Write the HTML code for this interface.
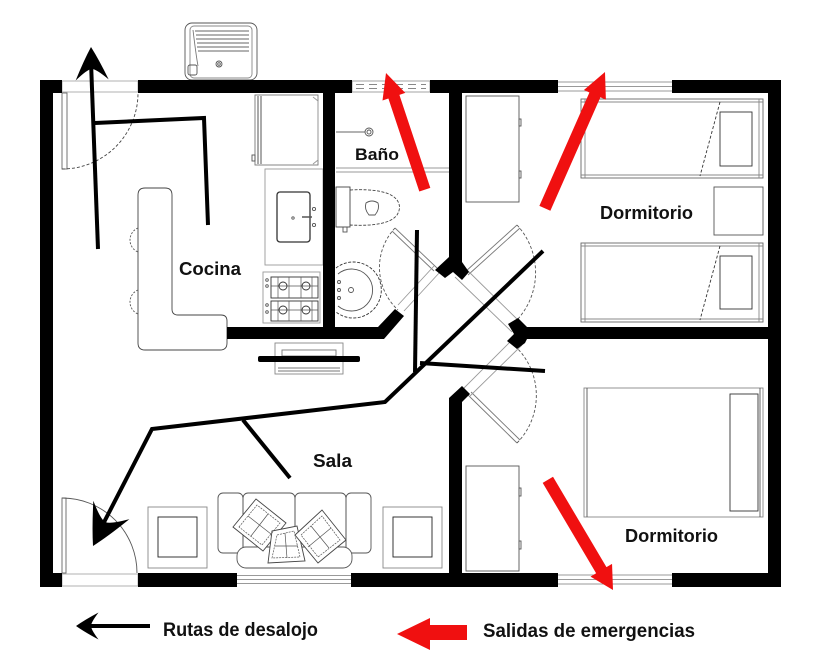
<!DOCTYPE html>
<html><head><meta charset="utf-8">
<style>
html,body{margin:0;padding:0;background:#fff;}
svg{display:block;}
text{font-family:"Liberation Sans",Arial,sans-serif;font-weight:bold;fill:#111;}
</style></head>
<body>
<svg width="819" height="655" viewBox="0 0 819 655" xmlns="http://www.w3.org/2000/svg">
<rect width="819" height="655" fill="#fff"/>

<!-- ============ thin furniture ============ -->
<g fill="none" stroke="#555" stroke-width="0.9">
  <!-- outside sink -->
  <rect x="185" y="23" width="72" height="57" rx="7"/>
  <rect x="190" y="26" width="62" height="52" rx="4" stroke="#888"/>
  <path d="M195,31 H249 M196,35 H249 M196,39 H249 M197,43 H249 M197,47 H249 M198,51 H249" stroke="#666"/>
  <path d="M193,30 Q196,55 198,66" stroke="#777"/>
  <circle cx="219" cy="64" r="3"/><circle cx="219" cy="64" r="1.3"/>
  <rect x="188" y="65" width="9" height="10" rx="2"/>

  <!-- fridge -->
  <rect x="255" y="95" width="63" height="70" stroke="#777"/>
  <path d="M258,96 V164 M261,96 V164" stroke="#444"/>
  <path d="M313,97 L318,101 V160 L313,164" stroke="#999"/>
  <rect x="252" y="155" width="3" height="6"/>

  <!-- counter with sink -->
  <rect x="265" y="169" width="58" height="96" stroke="#999"/>
  <rect x="277" y="192" width="33" height="50" rx="3" stroke="#333" stroke-width="1.3"/>
  <circle cx="293" cy="218" r="1.2"/>
  <path d="M302,217 H312" stroke-width="1.5"/>
  <circle cx="314" cy="209" r="1.6"/><circle cx="314" cy="225" r="1.6"/>

  <!-- stove -->
  <rect x="263" y="272" width="57" height="51" stroke="#999"/>
  <rect x="271" y="277" width="47" height="21" stroke="#333"/>
  <rect x="271" y="301" width="47" height="20" stroke="#333"/>
  <path d="M278,277 V298 M289,277 V298 M301,277 V298 M312,277 V298 M271,286 H318 M278,301 V321 M289,301 V321 M301,301 V321 M312,301 V321 M271,310 H318" stroke="#555" stroke-width="0.7"/>
  <circle cx="283" cy="286" r="4" stroke="#333"/><circle cx="306" cy="286" r="4" stroke="#333"/>
  <circle cx="283" cy="310" r="4" stroke="#333"/><circle cx="306" cy="310" r="4" stroke="#333"/>
  <circle cx="267" cy="280" r="1.3"/><circle cx="267" cy="286" r="1.3"/>
  <circle cx="267" cy="305" r="1.3"/><circle cx="267" cy="312" r="1.3"/>

  <!-- island -->
  <path d="M145,188 H165 Q172,188 172,195 V309 Q172,315 178,315 H221 Q227,315 227,321 V343 Q227,350 220,350 H145 Q138,350 138,343 V195 Q138,188 145,188 Z" stroke="#444"/>
  <!-- stools -->
  <path d="M138,228 A13,13 0 0 0 138,252" stroke-dasharray="2,1.5"/>
  <path d="M138,290 A13,13 0 0 0 138,314" stroke-dasharray="2,1.5"/>

  <!-- top-left door -->
  <rect x="62" y="81" width="76" height="11" stroke="#aaa"/>
  <rect x="62" y="93" width="5" height="76" stroke="#666"/>
  <path d="M62,169 A76,76 0 0 0 138,93" stroke-dasharray="3,2" stroke="#444"/>

  <!-- TV unit -->
  <rect x="275" y="343" width="68" height="31" stroke="#888"/>
  <rect x="282" y="350" width="54" height="6" stroke="#777"/>
  <path d="M278,368 H340 M278,371 H340" stroke="#777"/>

  <!-- bathroom -->
  <rect x="352" y="81" width="78" height="11" stroke="#999"/>
  <path d="M356,84.5 H426 M356,88.5 H426" stroke="#888" stroke-dasharray="8,5"/>
  <path d="M336,132 H365" stroke="#666"/>
  <circle cx="369" cy="132" r="4"/><circle cx="369" cy="132" r="2"/>
  <path d="M336,168 H449 M336,172 H449" stroke="#999"/>
  <rect x="336" y="187" width="14" height="40" stroke="#444"/>
  <rect x="343" y="227" width="4" height="5"/>
  <path d="M350,190 Q388,188 397,200 Q402,207 397,215 Q388,227 350,225" stroke="#444" stroke-dasharray="3,1.5"/>
  <path d="M366,203 Q372,199 378,203 Q380,209 375,215 H369 Q364,209 366,203 Z"/>
  <path d="M336,268 A28,28 0 1 1 336,312" stroke="#333" stroke-dasharray="3,1.5"/>
  <path d="M338,274 A21,21 0 1 1 338,306" stroke="#555"/>
  <circle cx="339" cy="282" r="1.5"/><circle cx="339" cy="290" r="1.5"/><circle cx="339" cy="298" r="1.5"/>
  <circle cx="351" cy="290" r="2.5"/>

  <!-- bath door -->
  <path d="M437,268 L395,228 M434,271 L392,231" stroke="#777"/>
  <path d="M395,228 A58,58 0 0 0 398,310" stroke="#555" stroke-dasharray="3,2"/>
  <path d="M404,311 L440,272 M398,305 L434,266" stroke="#999"/>

  <!-- top bedroom door -->
  <path d="M465,272 L517,225 M468,275 L520,228" stroke="#777"/>
  <path d="M517,225 A70,70 0 0 1 517,320" stroke="#555" stroke-dasharray="3,2"/>
  <path d="M455,277 L512,332 M464,267 L521,323" stroke="#999"/>

  <!-- bottom bedroom door -->
  <path d="M468,395 L517,443 M471,392 L520,440" stroke="#777"/>
  <path d="M517,443 A68,68 0 0 0 517,348" stroke="#555" stroke-dasharray="3,2"/>
  <path d="M462,390 L512,340 M470,396 L522,345" stroke="#999"/>

  <!-- top bedroom window -->
  <path d="M558,82 H672 M558,86.5 H672 M558,91 H672" stroke="#999"/>
  <!-- wardrobe top -->
  <rect x="466" y="96" width="53" height="106"/>
  <rect x="519" y="119" width="2" height="7"/><rect x="519" y="171" width="2" height="7"/>
  <!-- bed 1 -->
  <rect x="581" y="99" width="182" height="79" stroke="#666"/>
  <path d="M585,99 V178 M759,99 V178 M581,102 H763 M581,175 H763" stroke="#888"/>
  <rect x="720" y="112" width="32" height="54" stroke="#333"/>
  <path d="M720,102 L700,176" stroke="#333" stroke-dasharray="3,2"/>
  <!-- nightstand -->
  <rect x="714" y="187" width="49" height="48"/>
  <!-- bed 2 -->
  <rect x="581" y="243" width="182" height="79" stroke="#666"/>
  <path d="M585,243 V322 M759,243 V322 M581,246 H763 M581,319 H763" stroke="#888"/>
  <rect x="720" y="256" width="32" height="53" stroke="#333"/>
  <path d="M720,246 L700,320" stroke="#333" stroke-dasharray="3,2"/>

  <!-- bottom bedroom -->
  <rect x="466" y="466" width="53" height="105"/>
  <rect x="519" y="488" width="2" height="8"/><rect x="519" y="541" width="2" height="8"/>
  <rect x="584" y="388" width="179" height="129" stroke="#888"/>
  <path d="M587,388 V517 M760,388 V517" stroke="#555"/>
  <rect x="730" y="394" width="28" height="117" stroke="#333"/>
  <path d="M558,575 H672 M558,579.5 H672 M558,584 H672" stroke="#999"/>

  <!-- sala -->
  <rect x="62" y="574" width="76" height="12" stroke="#aaa"/>
  <rect x="62" y="498" width="4" height="75" stroke="#666"/>
  <path d="M62,498 A75,75 0 0 1 137,573" stroke="#555"/>
  <path d="M237,575.5 H351 M237,579.5 H351 M237,583.5 H351" stroke="#999"/>
  <rect x="148" y="507" width="59" height="61" stroke="#888"/>
  <rect x="158" y="517" width="39" height="40" stroke="#222"/>
  <rect x="383" y="507" width="59" height="61" stroke="#888"/>
  <rect x="393" y="517" width="39" height="40" stroke="#222"/>
  <!-- sofa -->
  <rect x="218" y="493" width="25" height="60" rx="5"/>
  <rect x="243" y="493" width="52" height="60" rx="5"/>
  <rect x="295" y="493" width="51" height="60" rx="5"/>
  <rect x="346" y="493" width="25" height="60" rx="5"/>
  <rect x="237" y="547" width="115" height="21" rx="9" fill="#fff"/>
  <g fill="#fff" stroke="#444">
    <polygon points="233,527 256,499 286,523 263,551"/>
    <polygon points="272,531 297,526 305,561 268,563"/>
    <polygon points="295,535 322,510 346,540 318,563"/>
  </g>
  <g stroke="#555" stroke-width="0.7">
    <polygon points="239,527 257,505 280,523 262,545" stroke-dasharray="2,1"/>
    <path d="M248,516 L271,534 M268,514 L251,536"/>
    <polygon points="277,535 294,531 300,557 272,558" stroke-dasharray="2,1"/>
    <path d="M275,546 H298 M285,533 L287,558"/>
    <polygon points="301,535 322,516 340,540 318,557" stroke-dasharray="2,1"/>
    <path d="M311,526 L329,548 M331,528 L308,547"/>
  </g>
</g>

<!-- ============ walls ============ -->
<g fill="#000">
  <rect x="40" y="80" width="22" height="13"/>
  <rect x="138" y="80" width="214" height="13"/>
  <rect x="430" y="80" width="128" height="13"/>
  <rect x="672" y="80" width="109" height="13"/>
  <rect x="40" y="80" width="13" height="507"/>
  <rect x="768" y="80" width="13" height="507"/>
  <rect x="40" y="573" width="22" height="14"/>
  <rect x="138" y="573" width="99" height="14"/>
  <rect x="351" y="573" width="207" height="14"/>
  <rect x="672" y="573" width="109" height="14"/>
  <rect x="323" y="93" width="12" height="236"/>
  <polygon points="227,327 378,327 395,309 404,316 384,339 227,339"/>
  <polygon points="449,93 462,93 462,262 469,272 462,280 453,272 445,278 435,270 449,257"/>
  <polygon points="518,318 527,327 781,327 781,339 527,339 525,343 517,349 507,341 514,334 508,324"/>
  <polygon points="449,398 462,386 470,394 462,402 462,573 449,573"/>
  <!-- TV bar -->
  <rect x="258" y="356" width="102" height="6" rx="2"/>
</g>

<!-- ============ evacuation routes ============ -->
<defs>
  <path id="ah" d="M0,0 Q-12,-7 -30,-15 Q-20,-4 -20,0 Q-20,4 -30,15 Q-12,7 0,0 Z"/>
</defs>
<g fill="none" stroke="#000" stroke-width="4" stroke-linejoin="miter">
  <polyline points="208,225 204,118 95,123"/>
  <line x1="98" y1="249" x2="91" y2="62"/>
  <polyline points="543,251 385,402 152,429 100,530"/>
  <line x1="243" y1="420" x2="290" y2="478"/>
  <line x1="417" y1="230" x2="415" y2="372"/>
  <line x1="420" y1="363" x2="545" y2="371"/>
  <line x1="150" y1="626" x2="88" y2="626"/>
</g>
<g fill="#000">
  <use href="#ah" transform="translate(91,47) rotate(-92) scale(1.1)"/>
  <use href="#ah" transform="translate(93,546) rotate(117) scale(1.35)"/>
  <use href="#ah" transform="translate(76,626) rotate(180) scale(0.75,0.9)"/>
</g>

<!-- ============ emergency exits ============ -->
<g fill="#f01010">
  <polygon transform="translate(386,73) rotate(-108.4)" points="0,0 -25,-12 -25,-5.8 -123,-5.8 -123,5.8 -25,5.8 -25,12"/>
  <polygon transform="translate(605,72) rotate(-66.2)" points="0,0 -25,-12 -25,-6 -149,-6 -149,6 -25,6 -25,12"/>
  <polygon transform="translate(613,590) rotate(59.4)" points="0,0 -23,-12.5 -23,-6 -128,-6 -128,6 -23,6 -23,12.5"/>
  <polygon points="397,634 430,618 430,625 467,625 467,640 430,640 430,650"/>
</g>

<!-- ============ labels ============ -->
<text x="179" y="275" font-size="18" textLength="62" lengthAdjust="spacingAndGlyphs">Cocina</text>
<text x="355" y="160" font-size="17" textLength="44" lengthAdjust="spacingAndGlyphs">Baño</text>
<text x="600" y="219" font-size="18" textLength="93" lengthAdjust="spacingAndGlyphs">Dormitorio</text>
<text x="625" y="542" font-size="18" textLength="93" lengthAdjust="spacingAndGlyphs">Dormitorio</text>
<text x="313" y="467" font-size="18" textLength="39" lengthAdjust="spacingAndGlyphs">Sala</text>
<text x="163" y="636" font-size="19" textLength="155" lengthAdjust="spacingAndGlyphs">Rutas de desalojo</text>
<text x="483" y="637" font-size="19" textLength="212" lengthAdjust="spacingAndGlyphs">Salidas de emergencias</text>
</svg>
</body></html>
